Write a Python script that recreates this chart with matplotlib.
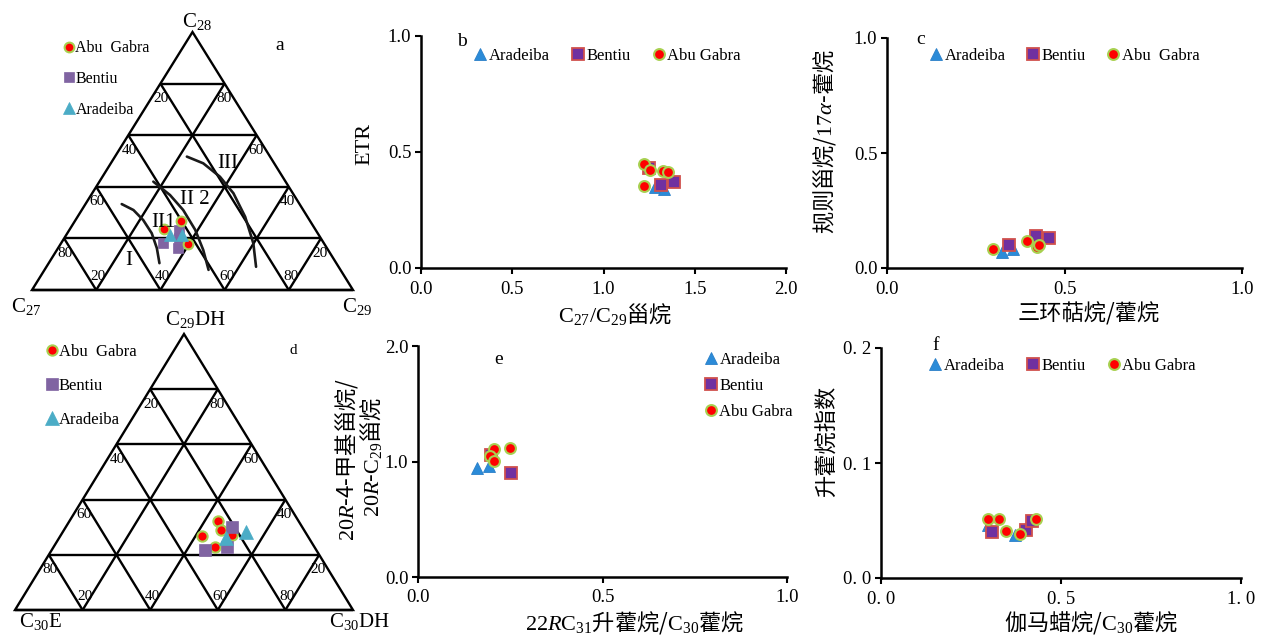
import numpy as np
import matplotlib
matplotlib.use('Agg')
import matplotlib.pyplot as plt
from matplotlib.lines import Line2D

plt.rcParams['font.family'] = ['Liberation Serif', 'Noto Sans CJK SC', 'DejaVu Sans']
plt.rcParams['mathtext.fontset'] = 'custom'
plt.rcParams['mathtext.rm'] = 'Liberation Serif'
plt.rcParams['mathtext.it'] = 'Liberation Serif:italic'
plt.rcParams['mathtext.bf'] = 'Liberation Serif:bold'
plt.rcParams['axes.unicode_minus'] = False

# ---------------- data ----------------
# panel a : ternary C27 - C28 - C29 (percent)
a_abu_c27 = [47.0, 40.2, 42.5]
a_abu_c28 = [23.5, 26.9, 17.8]
a_abu_c29 = [29.5, 32.9, 39.7]
a_ben_c27 = [49.9, 46.3, 42.7, 44.1]
a_ben_c28 = [18.3, 16.2, 23.1, 20.0]
a_ben_c29 = [31.8, 37.5, 34.2, 35.9]
a_ara_c27 = [46.4, 42.7]
a_ara_c28 = [21.3, 21.3]
a_ara_c29 = [32.3, 36.0]
# boundary curves of panel a (C28 %, C29 %)
curve1_c28 = [33.3, 31.0, 27.1, 22.0, 16.2, 10.4]
curve1_c29 = [11.3, 16.1, 21.1, 26.3, 30.8, 34.5]
curve2_c28 = [42.0, 36.8, 31.0, 23.3, 15.5, 7.8]
curve2_c29 = [16.8, 24.6, 31.6, 39.2, 45.6, 51.1]
curve3_c28 = [51.7, 49.1, 43.9, 37.5, 28.4, 18.1, 9.0]
curve3_c29 = [22.4, 28.8, 36.6, 44.0, 52.2, 59.9, 65.3]

# panel d : ternary C30E - C29DH - C30DH (percent)
d_abu_c30e = [23.7, 24.5, 31.4, 29.4, 22.2]
d_abu_c29dh = [32.4, 29.0, 26.8, 22.8, 27.2]
d_abu_c30dh = [43.9, 46.5, 41.8, 47.8, 50.6]
d_ben_c30e = [20.7, 32.8, 25.8]
d_ben_c29dh = [30.2, 21.7, 23.0]
d_ben_c30dh = [49.1, 45.5, 51.2]
d_ara_c30e = [24.5, 17.6]
d_ara_c29dh = [26.0, 28.3]
d_ara_c30dh = [49.5, 54.1]

grid_pct = [20, 40, 60, 80]

# panel b : C27/C29 steranes vs ETR
b_ara_x = [1.28, 1.33]
b_ara_y = [0.350, 0.340]
b_ben_x = [1.25, 1.315, 1.386]
b_ben_y = [0.430, 0.358, 0.369]
b_abu_x = [1.223, 1.255, 1.328, 1.355, 1.223]
b_abu_y = [0.447, 0.422, 0.418, 0.415, 0.355]

# panel c : tricyclic terpanes/hopanes vs regular steranes/17a-hopanes
c_ara_x = [0.325, 0.356]
c_ara_y = [0.070, 0.084]
c_ben_x = [0.344, 0.420, 0.457]
c_ben_y = [0.099, 0.139, 0.130]
c_abu_x = [0.299, 0.393, 0.423, 0.429]
c_abu_y = [0.084, 0.117, 0.090, 0.102]

# panel e : 22R C31 homohopane/C30 hopane vs 4-methylsterane ratio
e_ara_x = [0.160, 0.192]
e_ara_y = [0.945, 0.962]
e_ben_x = [0.252, 0.197]
e_ben_y = [0.902, 1.060]
e_abu_x = [0.205, 0.249, 0.195, 0.205]
e_abu_y = [1.110, 1.115, 1.046, 1.003]

# panel f : gammacerane/C30 hopane vs homohopane index
f_ara_x = [0.298, 0.372]
f_ara_y = [0.0463, 0.0377]
f_ben_x = [0.309, 0.403, 0.420]
f_ben_y = [0.0400, 0.0414, 0.0500]
f_abu_x = [0.298, 0.329, 0.347, 0.386, 0.431]
f_abu_y = [0.0516, 0.0516, 0.0409, 0.0385, 0.0516]

b_xticks = [0.0, 0.5, 1.0, 1.5, 2.0]
b_yticks = [0.0, 0.5, 1.0]
c_xticks = [0.0, 0.5, 1.0]
c_yticks = [0.0, 0.5, 1.0]
e_xticks = [0.0, 0.5, 1.0]
e_yticks = [0.0, 1.0, 2.0]
f_xticks = [0.0, 0.5, 1.0]
f_xticklabels = ['0. 0', '0. 5', '1. 0']
f_yticks = [0.0, 0.1, 0.2]
f_yticklabels = ['0. 0', '0. 1', '0. 2']

# ---------------- styles ----------------
W, H = 1261, 637
fig = plt.figure(figsize=(W / 100, H / 100), dpi=100)

SERIF = 'Liberation Serif'
CJK = ['Noto Sans CJK SC']

ARA = dict(marker='^', ls='none', markerfacecolor='#2B8BD8', markeredgecolor='#2A7FC8', ms=9.3, mew=0.6)
BEN = dict(marker='s', ls='none', markerfacecolor='#7030A0', markeredgecolor='#D0504D', ms=8.0, mew=1.3)
ABU = dict(marker='o', ls='none', markerfacecolor='#FF0000', markeredgecolor='#A8D050', ms=7.8, mew=1.5)

T_ARA = dict(marker='^', ls='none', markerfacecolor='#4BACC6', markeredgecolor='#4BACC6', ms=8.8, mew=0.5)
T_BEN = dict(marker='s', ls='none', markerfacecolor='#8064A2', markeredgecolor='#8064A2', ms=7.8, mew=0.5)
T_ABU = dict(marker='o', ls='none', markerfacecolor='#FF0000', markeredgecolor='#A8D050', ms=7.0, mew=1.5)


def px_axes(left, top, right, bottom):
    return fig.add_axes([left / W, 1 - bottom / H, (right - left) / W, (bottom - top) / H])


def ftext(x, y, s, **kw):
    return fig.text(x / W, 1 - y / H, s, ha='center', va='center', **kw)


def tern_xy(right_pct, top_pct):
    r = np.asarray(right_pct, dtype=float) / 100.0
    t = np.asarray(top_pct, dtype=float) / 100.0
    return r + t / 2.0, t


def draw_ternary_frame(ax):
    ax.set_xlim(0, 1)
    ax.set_ylim(0, 1)
    ax.axis('off')
    kw = dict(color='black', lw=1.7, solid_capstyle='butt', clip_on=False)
    ax.plot([0, 1, 0.5, 0, 1], [0, 0, 1, 0, 0], solid_joinstyle='miter', **kw)
    for p in grid_pct:
        f = p / 100.0
        ax.plot([f / 2, 1 - f / 2], [f, f], **kw)
        ax.plot([f, (1 + f) / 2], [0, 1 - f], **kw)
        ax.plot([1 - f, (1 - f) / 2], [0, 1 - f], **kw)
        lab = dict(textcoords='offset pixels', ha='center', va='center',
                   fontsize=11, family=SERIF, annotation_clip=False)
        ax.annotate(str(100 - p), (f / 2, f), xytext=(1, -15), **lab)
        ax.annotate(str(p), (1 - f / 2, f), xytext=(-1, -15), **lab)
        ax.annotate(str(p), (f, 0), xytext=(2, 14), **lab)


# ---------------- panel a ----------------
axa = px_axes(32, 32, 353, 290)
draw_ternary_frame(axa)
for c28, c29 in [(curve1_c28, curve1_c29), (curve2_c28, curve2_c29), (curve3_c28, curve3_c29)]:
    x, y = tern_xy(c29, c28)
    axa.plot(x, y, color='#1a1a1a', lw=1.9, solid_capstyle='round')
axa.plot(*tern_xy(a_ben_c29, a_ben_c28), **T_BEN)
axa.plot(*tern_xy(a_abu_c29, a_abu_c28), **T_ABU)
axa.plot(*tern_xy(a_ara_c29, a_ara_c28), **T_ARA)
for s, (u, t) in [('I', (0.300, 0.116)), ('II1', (0.410, 0.262)),
                  ('II 2', (0.508, 0.349)), ('III', (0.609, 0.490))]:
    axa.text(u, t, s, ha='center', va='center', fontsize=15, family=SERIF)
ta = [Line2D([], [], **T_ABU), Line2D([], [], **T_BEN), Line2D([], [], **T_ARA)]
axa.legend(ta, ['Abu  Gabra', 'Bentiu', 'Aradeiba'], loc='center left',
           bbox_to_anchor=(0.098, 0.818), frameon=False, borderpad=0, borderaxespad=0,
           handlelength=0.7, handletextpad=0.05, labelspacing=0.92,
           prop=dict(family=SERIF, size=11.5))
ftext(197, 22, r'$\mathrm{C}_{28}$', fontsize=15, family=SERIF)
ftext(26, 307, r'$\mathrm{C}_{27}$', fontsize=15, family=SERIF)
ftext(357, 307, r'$\mathrm{C}_{29}$', fontsize=15, family=SERIF)
ftext(280, 46, 'a', fontsize=14, family=SERIF)

# ---------------- panel d ----------------
axd = px_axes(15, 334, 353, 610)
draw_ternary_frame(axd)
axd.plot(*tern_xy(d_abu_c30dh, d_abu_c29dh), **dict(T_ABU, ms=7.4))
axd.plot(*tern_xy(d_ben_c30dh, d_ben_c29dh), **dict(T_BEN, ms=9))
axd.plot(*tern_xy(d_ara_c30dh, d_ara_c29dh), **dict(T_ARA, ms=10.5))
td = [Line2D([], [], **dict(T_ABU, ms=7.4)), Line2D([], [], **dict(T_BEN, ms=9)),
      Line2D([], [], **dict(T_ARA, ms=10.5))]
axd.legend(td, ['Abu  Gabra', 'Bentiu', 'Aradeiba'], loc='center left',
           bbox_to_anchor=(0.09, 0.812), frameon=False, borderpad=0, borderaxespad=0,
           handlelength=0.75, handletextpad=0.05, labelspacing=1.08,
           prop=dict(family=SERIF, size=12))
ftext(195, 320, r'$\mathrm{C}_{29}\mathrm{DH}$', fontsize=15, family=SERIF)
ftext(40, 622, r'$\mathrm{C}_{30}\mathrm{E}$', fontsize=15, family=SERIF)
ftext(359, 622, r'$\mathrm{C}_{30}\mathrm{DH}$', fontsize=15, family=SERIF)
ftext(293, 350, 'd', fontsize=11, family=SERIF)


# ---------------- xy panels ----------------
def style_xy(ax, xlim, ylim, xt, yt, xtl=None, ytl=None):
    ax.set_xlim(*xlim)
    ax.set_ylim(*ylim)
    for s in ['top', 'right']:
        ax.spines[s].set_visible(False)
    for s in ['left', 'bottom']:
        ax.spines[s].set_linewidth(1.8)
    ax.set_xticks(xt)
    ax.set_yticks(yt)
    ax.set_xticklabels(xtl if xtl is not None else ['%.1f' % v for v in xt])
    ax.set_yticklabels(ytl if ytl is not None else ['%.1f' % v for v in yt])
    ax.tick_params(direction='out', length=4, width=1.5, labelsize=13.5)
    ax.tick_params(axis='x', pad=5)
    ax.tick_params(axis='y', pad=3)
    for lab in ax.get_xticklabels() + ax.get_yticklabels():
        lab.set_family(SERIF)


def plot_series(ax, ara, ben, abu):
    ax.plot(ara[0], ara[1], clip_on=False, **ARA)
    ax.plot(ben[0], ben[1], clip_on=False, **BEN)
    ax.plot(abu[0], abu[1], clip_on=False, **ABU)


def series_legend(ax, x, y, labels, ncol=3, colsp=1.3, labelsp=0.5):
    hs = [Line2D([], [], **ARA), Line2D([], [], **BEN), Line2D([], [], **ABU)]
    ax.legend(hs, labels, loc='center left', bbox_to_anchor=(x, y), ncol=ncol,
              frameon=False, borderpad=0, borderaxespad=0, handlelength=0.8,
              handletextpad=0.1, columnspacing=colsp, labelspacing=labelsp,
              prop=dict(family=SERIF, size=12))


# b
axb = px_axes(421, 36, 786, 268)
style_xy(axb, (0, 2), (0, 1), b_xticks, b_yticks)
plot_series(axb, (b_ara_x, b_ara_y), (b_ben_x, b_ben_y), (b_abu_x, b_abu_y))
series_legend(axb, 0.144, 0.914, ['Aradeiba', 'Bentiu', 'Abu Gabra'])
ftext(462, 42, 'b', fontsize=14, family=SERIF)
ftext(365, 144, 'ETR', fontsize=16, family=SERIF, rotation=90)
ftext(615, 314, r'$\mathrm{C}_{27}/\mathrm{C}_{29}$甾烷', fontsize=16, family=CJK)

# c
axc = px_axes(887, 38, 1242, 268)
style_xy(axc, (0, 1), (0, 1), c_xticks, c_yticks)
plot_series(axc, (c_ara_x, c_ara_y), (c_ben_x, c_ben_y), (c_abu_x, c_abu_y))
series_legend(axc, 0.12, 0.922, ['Aradeiba', 'Bentiu', 'Abu  Gabra'], colsp=1.25)
ftext(921, 40, 'c', fontsize=14, family=SERIF)
ftext(825, 142, r'规则甾烷/$17\alpha$-藿烷', fontsize=16, family=CJK, rotation=90)
ftext(1089, 314, '三环萜烷/藿烷', fontsize=16, family=CJK)

# e
axe = px_axes(418, 346, 787, 577)
style_xy(axe, (0, 1), (0, 2), e_xticks, e_yticks)
plot_series(axe, (e_ara_x, e_ara_y), (e_ben_x, e_ben_y), (e_abu_x, e_abu_y))
series_legend(axe, 0.776, 0.827, ['Aradeiba', 'Bentiu', 'Abu Gabra'], ncol=1, labelsp=0.6)
ftext(499, 359, 'e', fontsize=14, family=SERIF)
ftext(347, 460, r'$20\mathit{R}$-4-甲基甾烷/', fontsize=16, family=CJK, rotation=90)
ftext(371, 457, r'$20\mathit{R}$-$\mathrm{C}_{29}$甾烷', fontsize=16, family=CJK, rotation=90)
ftext(635, 622, r'$22\mathit{R}\mathrm{C}_{31}$升藿烷/$\mathrm{C}_{30}$藿烷', fontsize=16, family=CJK)

# f
axf = px_axes(881, 348, 1241, 578)
style_xy(axf, (0, 1), (0, 0.2), f_xticks, f_yticks, f_xticklabels, f_yticklabels)
plot_series(axf, (f_ara_x, f_ara_y), (f_ben_x, f_ben_y), (f_abu_x, f_abu_y))
series_legend(axf, 0.132, 0.922, ['Aradeiba', 'Bentiu', 'Abu Gabra'])
ftext(936, 346, 'f', fontsize=14, family=SERIF)
ftext(827, 441, '升藿烷指数', fontsize=16, family=CJK, rotation=90)
ftext(1091, 622, r'伽马蜡烷/$\mathrm{C}_{30}$藿烷', fontsize=16, family=CJK)

fig.savefig('out.png', dpi=100)
